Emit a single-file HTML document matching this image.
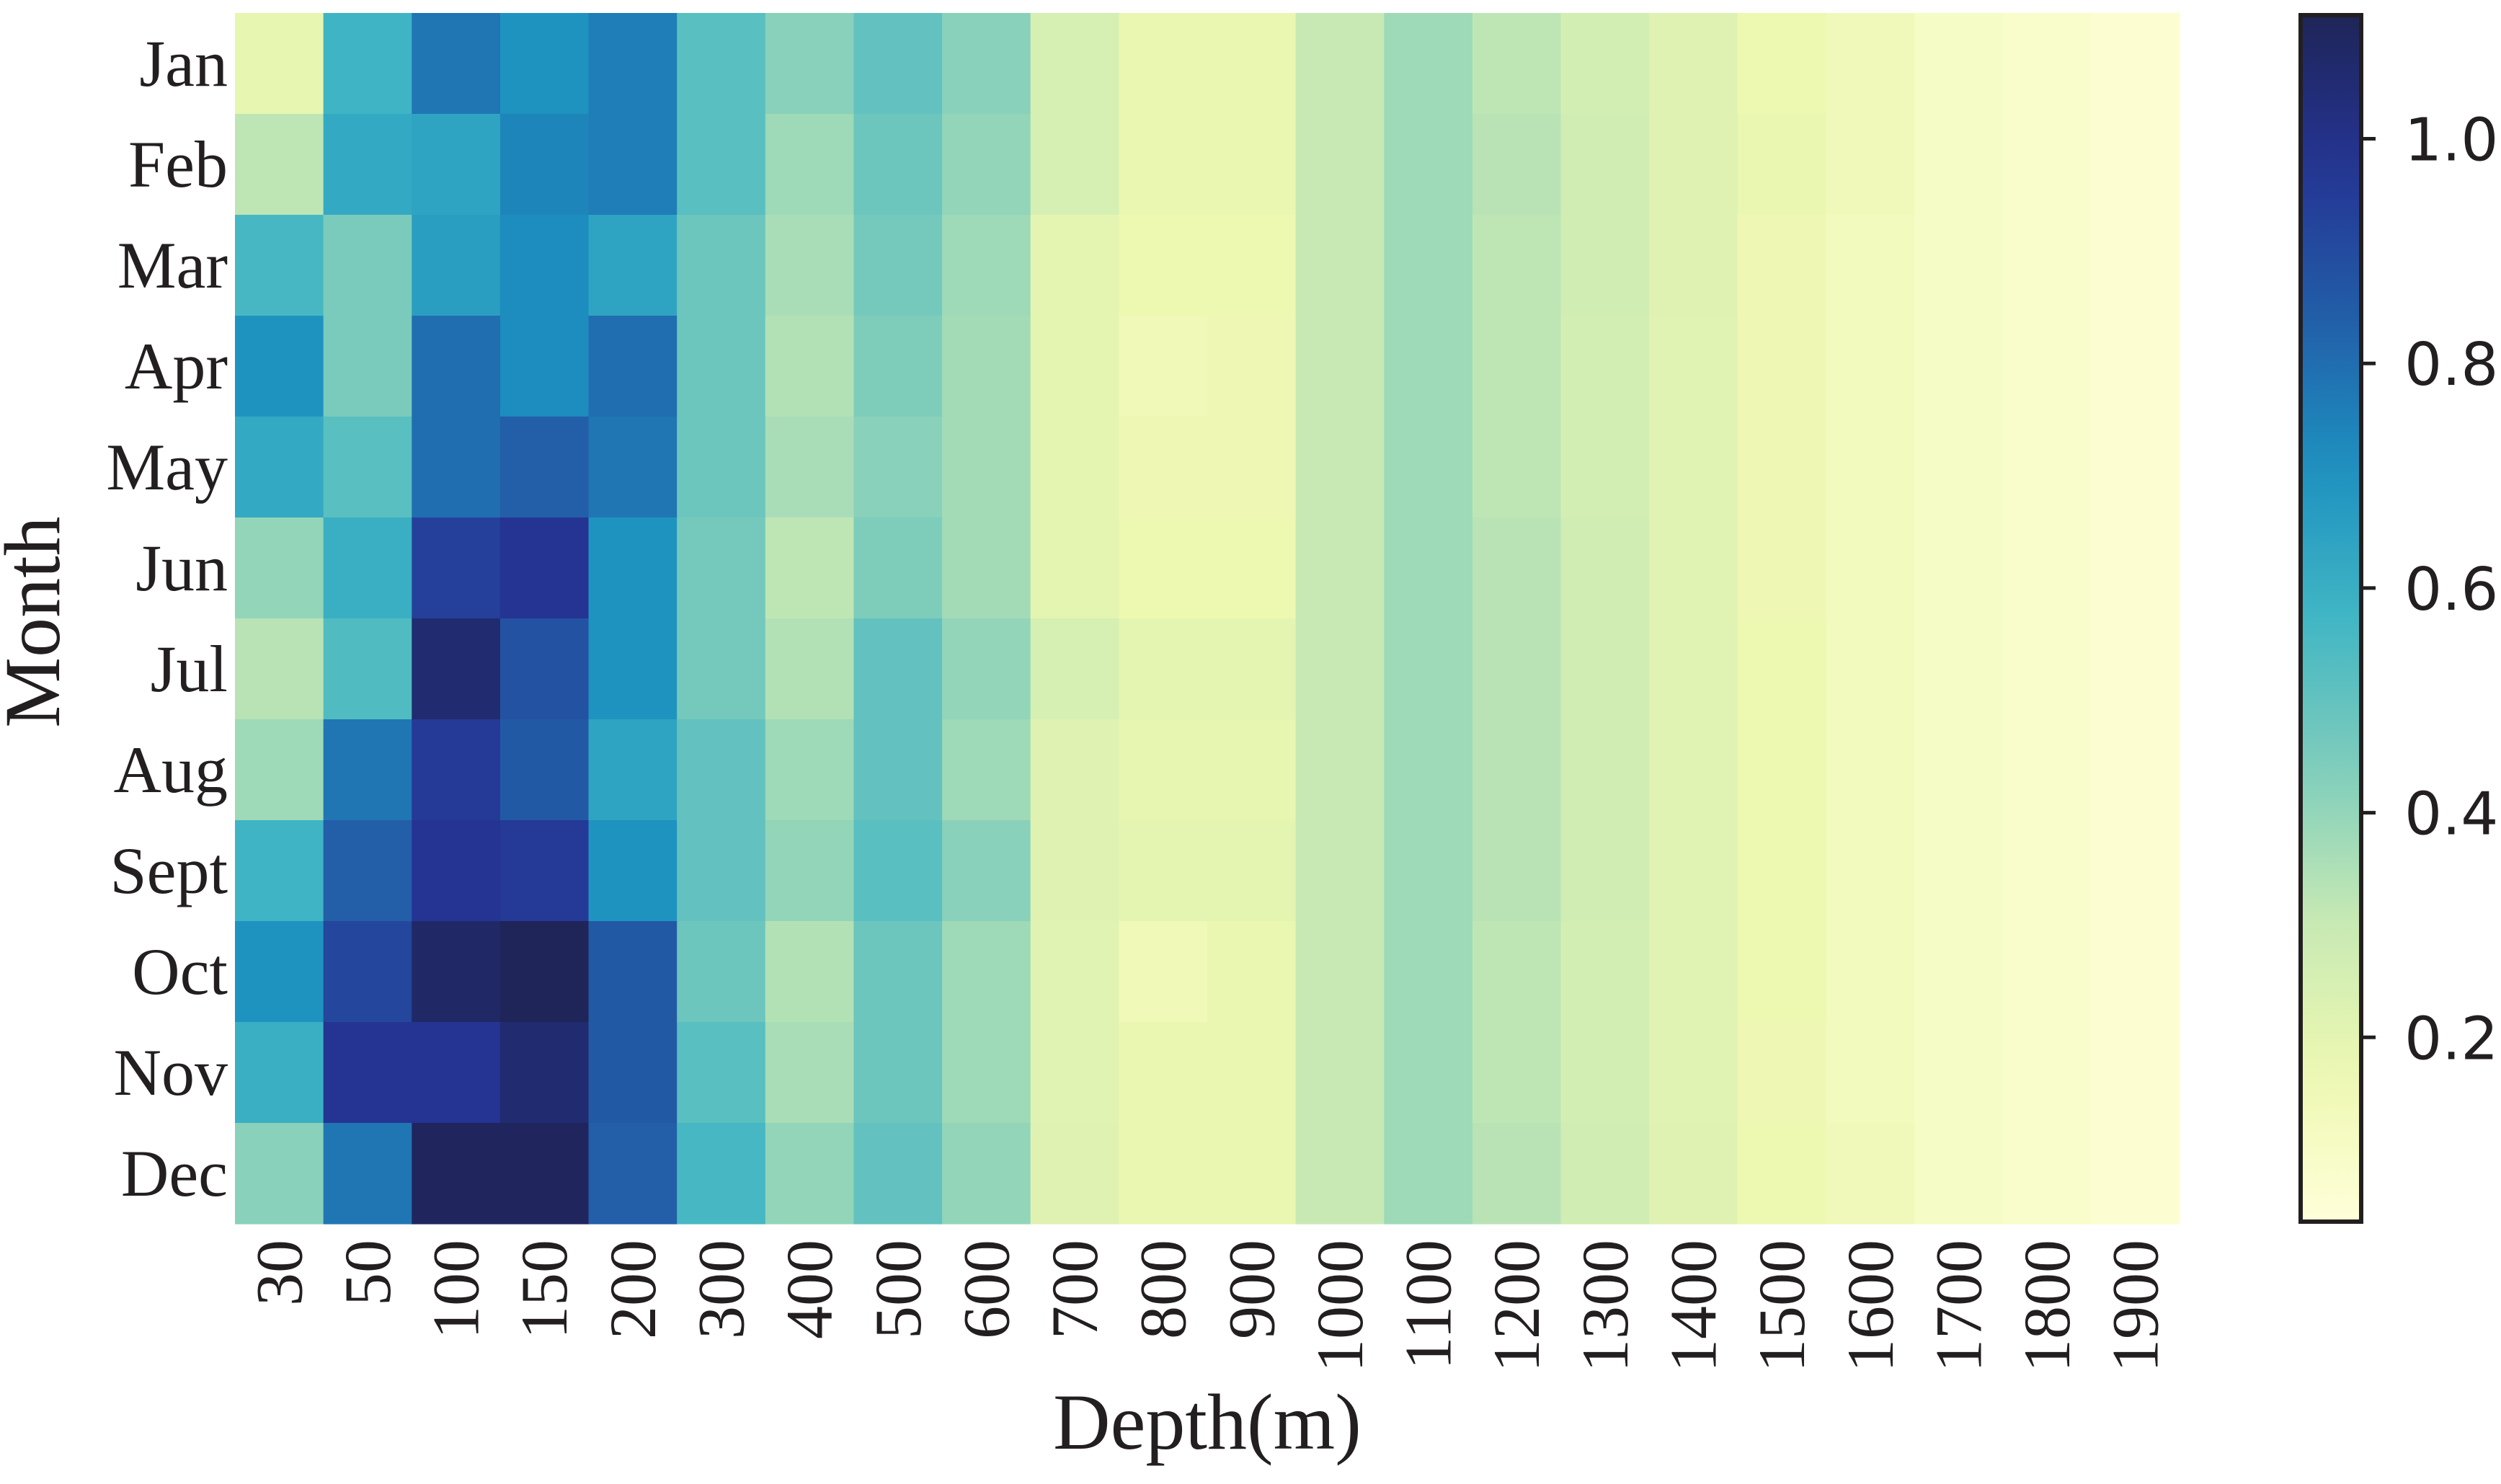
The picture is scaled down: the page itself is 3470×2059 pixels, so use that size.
<!DOCTYPE html>
<html><head><meta charset="utf-8"><style>
html,body{margin:0;padding:0;background:#fff}
svg{display:block}
</style></head><body>
<svg id="chart" width="3470" height="2059" viewBox="0 0 3470 2059" xmlns="http://www.w3.org/2000/svg">
<defs><linearGradient id="cbgrad" x1="0" y1="1" x2="0" y2="0"></linearGradient></defs>
<g id="cells"></g>
<g id="ylabels"></g>
<g id="xlabels"></g>
<text x="0" y="0" transform="translate(82,863) rotate(-90)" text-anchor="middle" font-family="Liberation Serif, serif" font-size="110" fill="#231f20">Month</text>
<text x="1675" y="2010" text-anchor="middle" font-family="Liberation Serif, serif" font-size="110" fill="#231f20">Depth(m)</text>
<g id="colorbar"></g>
</svg>
<script>
const months = ["Jan","Feb","Mar","Apr","May","Jun","Jul","Aug","Sept","Oct","Nov","Dec"];
const depths = ["30","50","100","150","200","300","400","500","600","700","800","900","1000","1100","1200","1300","1400","1500","1600","1700","1800","1900"];
const rowJan = [0.19,0.58,0.78,0.70,0.76,0.52,0.42,0.50,0.42,0.25,0.18,0.18,0.30,0.38,0.32,0.26,0.22,0.17,0.14,0.10,0.08,0.06];
const rowFeb = [0.32,0.62,0.64,0.74,0.76,0.52,0.38,0.48,0.40,0.25,0.18,0.18,0.30,0.38,0.33,0.27,0.22,0.18,0.14,0.10,0.08,0.06];
const rowMar = [0.56,0.45,0.66,0.72,0.64,0.48,0.36,0.46,0.38,0.20,0.17,0.17,0.30,0.38,0.32,0.27,0.22,0.16,0.13,0.10,0.08,0.06];
const rowApr = [0.70,0.45,0.80,0.72,0.80,0.48,0.34,0.44,0.37,0.20,0.15,0.16,0.30,0.38,0.32,0.26,0.21,0.16,0.13,0.10,0.08,0.06];
const rowMay = [0.62,0.52,0.80,0.84,0.78,0.48,0.36,0.42,0.37,0.20,0.16,0.16,0.30,0.38,0.32,0.26,0.21,0.16,0.13,0.10,0.08,0.06];
const rowJun = [0.40,0.60,0.94,0.98,0.70,0.46,0.32,0.44,0.37,0.20,0.17,0.17,0.30,0.38,0.33,0.27,0.21,0.16,0.13,0.10,0.08,0.06];
const rowJul = [0.33,0.54,1.06,0.88,0.70,0.46,0.34,0.50,0.40,0.25,0.20,0.20,0.30,0.38,0.33,0.27,0.21,0.17,0.13,0.10,0.08,0.06];
const rowAug = [0.38,0.78,0.96,0.86,0.64,0.50,0.38,0.50,0.38,0.22,0.19,0.19,0.30,0.38,0.33,0.27,0.21,0.17,0.13,0.10,0.08,0.06];
const rowSep = [0.58,0.84,0.98,0.96,0.70,0.50,0.40,0.52,0.42,0.22,0.20,0.20,0.30,0.38,0.33,0.27,0.21,0.17,0.13,0.10,0.08,0.06];
const rowOct = [0.70,0.92,1.08,1.11,0.86,0.48,0.34,0.48,0.38,0.21,0.15,0.18,0.30,0.38,0.32,0.26,0.21,0.17,0.13,0.10,0.08,0.06];
const rowNov = [0.60,0.98,0.98,1.06,0.86,0.52,0.36,0.48,0.38,0.21,0.18,0.18,0.30,0.38,0.32,0.26,0.21,0.16,0.13,0.10,0.08,0.06];
const rowDec = [0.42,0.78,1.10,1.10,0.84,0.56,0.40,0.50,0.40,0.22,0.18,0.18,0.30,0.38,0.33,0.27,0.22,0.17,0.14,0.10,0.08,0.06];
const values = [rowJan,rowFeb,rowMar,rowApr,rowMay,rowJun,rowJul,rowAug,rowSep,rowOct,rowNov,rowDec];
const cbTicks = [0.2,0.4,0.6,0.8,1.0];
const cbTickLabels = ["0.2","0.4","0.6","0.8","1.0"];
const vmin = 0.034, vmax = 1.112;

const NS = "http://www.w3.org/2000/svg";
const X0 = 326, X1 = 3024, Y0 = 18, Y1 = 1698;
const cw = (X1 - X0) / depths.length, ch = (Y1 - Y0) / months.length;
const xPos = i => X0 + i * cw;
const yPos = j => Y0 + j * ch;
const stops = [[255,255,217],[237,248,177],[199,233,180],[127,205,187],[65,182,196],[29,145,192],[34,94,168],[37,52,148],[31,37,88]];
function color(v){
  let t = Math.max(0, Math.min(1, (v - vmin) / (vmax - vmin))) * (stops.length - 1);
  let i = Math.min(stops.length - 2, Math.floor(t)), f = t - i;
  const c = stops[i].map((a, k) => Math.round(a + (stops[i+1][k] - a) * f));
  return `rgb(${c[0]},${c[1]},${c[2]})`;
}
function mk(tag, attrs, parent){
  const el = document.createElementNS(NS, tag);
  for (const k in attrs) el.setAttribute(k, attrs[k]);
  parent.appendChild(el);
  return el;
}
const cells = document.getElementById('cells');
values.forEach((row, j) => row.forEach((v, i) => {
  const r = mk('rect', {x: xPos(i), y: yPos(j), width: cw + 0.6, height: ch + 0.6, fill: color(v)}, cells);
  
  
}));
const yl = document.getElementById('ylabels');
months.forEach((m, j) => {
  const t = mk('text', {x: 316, y: yPos(j) + ch/2 + 31, 'text-anchor': 'end', 'font-family': 'Liberation Serif, serif', 'font-size': 92, fill: '#231f20'}, yl);
  t.textContent = m;
  
  
});
const xl = document.getElementById('xlabels');
depths.forEach((d, i) => {
  const cx = xPos(i) + cw/2 + 31;
  const t = mk('text', {x: 0, y: 0, transform: `translate(${cx},1720) rotate(-90)`, 'text-anchor': 'end', 'font-family': 'Liberation Serif, serif', 'font-size': 92, fill: '#231f20'}, xl);
  t.textContent = d;
  
  
});
const grad = document.getElementById('cbgrad');
for (let k = 0; k <= 20; k++){
  const v = vmin + (vmax - vmin) * k / 20;
  mk('stop', {offset: (k/20*100) + '%', 'stop-color': color(v)}, grad);
}
const cb = document.getElementById('colorbar');
const CBX = 3189, CBW = 90, CBY0 = 18, CBY1 = 1698;
const cbY = v => CBY1 - (v - vmin) / (vmax - vmin) * (CBY1 - CBY0);
const cbRect = mk('rect', {x: CBX + 3, y: CBY0 + 3, width: CBW - 6, height: CBY1 - CBY0 - 6, fill: 'url(#cbgrad)', stroke: '#231f20', 'stroke-width': 6}, cb);


cbTicks.forEach((v, k) => {
  const y = cbY(v);
  const ln = mk('line', {x1: CBX + CBW, x2: CBX + CBW + 17, y1: y, y2: y, stroke: '#231f20', 'stroke-width': 5}, cb);
  
  
  const t = mk('text', {x: 3336, y: y + 30, 'font-family': 'DejaVu Sans, sans-serif', 'font-size': 82, fill: '#231f20'}, cb);
  t.textContent = cbTickLabels[k];
  
  
});
</script>
</body></html>
